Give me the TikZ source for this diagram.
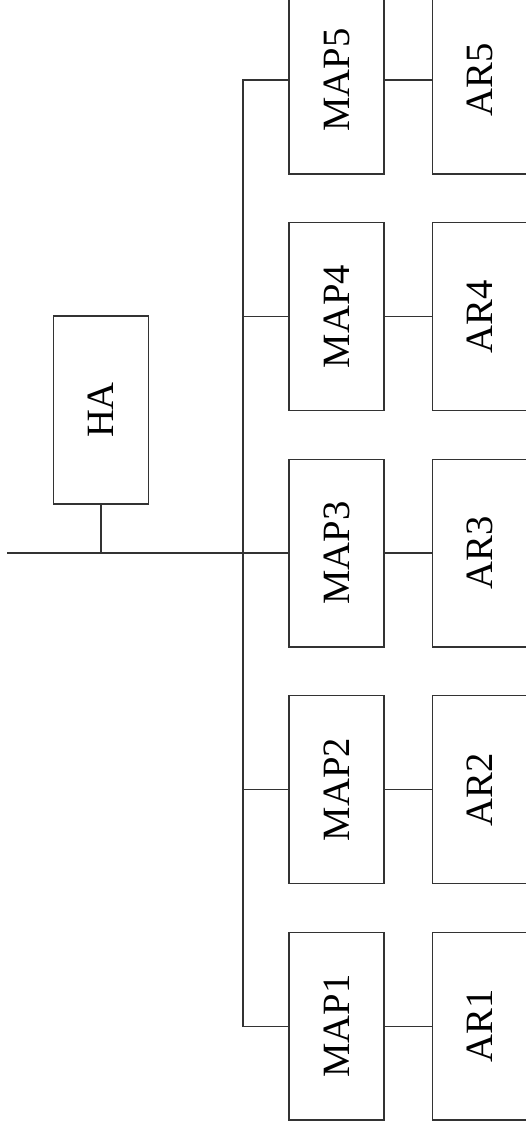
\documentclass[tikz,border=0pt]{standalone}
\usepackage{fontspec}
\setmainfont{Liberation Serif}
\usepackage{graphicx}
\usepackage{tikz}
\usetikzlibrary{positioning}

\begin{document}
\begin{tikzpicture}[
    x=0.02cm, y=-0.02cm,
    node distance=0.95cm,
    box/.style={rectangle, draw=black!80, line width=0.6pt, fill=white, minimum width=1.9cm, minimum height=3.76cm, inner sep=0pt, font=\fontsize{22}{26}\selectfont},
    wire/.style={draw=black!80, line width=0.6pt},
]
    \useasboundingbox (0,0) rectangle (525,1130);
    % access points column
    \node[box] (map5) at (336.5,80) {\rotatebox{90}{MAP5}};
    \node[box, below=of map5] (map4) {\rotatebox{90}{MAP4}};
    \node[box, below=of map4] (map3) {\rotatebox{90}{MAP3}};
    \node[box, below=of map3] (map2) {\rotatebox{90}{MAP2}};
    \node[box, below=of map2] (map1) {\rotatebox{90}{MAP1}};
    % access routers
    \node[box, right=of map5] (ar5) {\rotatebox{90}{AR5}};
    \node[box, right=of map4] (ar4) {\rotatebox{90}{AR4}};
    \node[box, right=of map3] (ar3) {\rotatebox{90}{AR3}};
    \node[box, right=of map2] (ar2) {\rotatebox{90}{AR2}};
    \node[box, right=of map1] (ar1) {\rotatebox{90}{AR1}};
    % home agent
    \node[box] (ha) at (101,410) {\rotatebox{90}{HA}};
    \coordinate (net) at (7,0);
    \coordinate (bus) at (243,0);
    \draw[wire] (net |- map3.west) -- (map3.west);
    \draw[wire] (ha.south) -- (ha.south |- map3.west);
    \draw[wire] (map5.west) -- (map5.west -| bus) -- (map1.west -| bus) -- (map1.west);
    \draw[wire] (map4.west) -- (map4.west -| bus);
    \draw[wire] (map2.west) -- (map2.west -| bus);
    \draw[wire] (map5) -- (ar5);
    \draw[wire] (map4) -- (ar4);
    \draw[wire] (map3) -- (ar3);
    \draw[wire] (map2) -- (ar2);
    \draw[wire] (map1) -- (ar1);
\end{tikzpicture}
\end{document}
